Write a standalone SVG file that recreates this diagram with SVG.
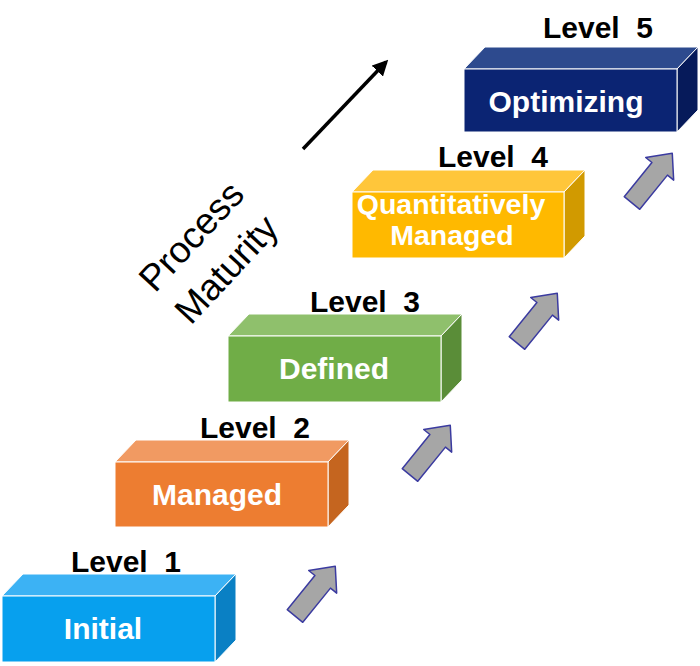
<svg xmlns="http://www.w3.org/2000/svg" width="700" height="666" viewBox="0 0 700 666">
<defs>
<style>
.lvl{font-family:"Liberation Sans",Arial,sans-serif;font-weight:bold;font-size:30px;fill:#000;text-anchor:middle}
.lbl{font-family:"Liberation Sans",Arial,sans-serif;font-weight:bold;font-size:30px;fill:#fff;text-anchor:middle}
.pm{font-family:"Liberation Sans",Arial,sans-serif;font-size:37px;fill:#000;text-anchor:middle}
.face{stroke:#fff;stroke-width:1;stroke-linejoin:round}
.garr{fill:#a6a6a6;stroke:#3b3ba0;stroke-width:1.5;stroke-linejoin:round}
</style>
<polygon id="ga" points="0,-10 44,-10 44,-18 64,0 44,18 44,10 0,10"/>
<marker id="ah" viewBox="0 0 10 10" refX="8" refY="5" markerWidth="4.5" markerHeight="4.5" orient="auto" markerUnits="strokeWidth">
<path d="M0,0 L10,5 L0,10 z" fill="#000"/>
</marker>
</defs>
<rect width="700" height="666" fill="#fff"/>

<g id="connectors">
<use href="#ga" class="garr" transform="translate(295,616) rotate(-51)"/>
<use href="#ga" class="garr" transform="translate(410,475) rotate(-51)"/>
<use href="#ga" class="garr" transform="translate(517,343) rotate(-51)"/>
<use href="#ga" class="garr" transform="translate(632,203) rotate(-51)"/>
<line x1="303" y1="149" x2="386" y2="62" stroke="#000" stroke-width="3.5" marker-end="url(#ah)"/>
</g>

<g id="process-maturity">
<text class="pm" transform="translate(191,236) rotate(-47)" y="13">Process</text>
<text class="pm" transform="translate(226,269) rotate(-47)" y="13">Maturity</text>
</g>

<g id="level1">
<polygon class="face" points="2,596 23,574 236,574 215,596" fill="#3cb2f4"/>
<polygon class="face" points="215,596 236,574 236,640 215,662" fill="#0a80c4"/>
<rect class="face" x="2" y="596" width="213" height="66" fill="#07a0ee"/>
<text class="lbl" x="103" y="639">Initial</text>
<text class="lvl" x="126" y="572" xml:space="preserve">Level  1</text>
</g>

<g id="level2">
<polygon class="face" points="115,462 136,440 349,440 328,462" fill="#f19a62"/>
<polygon class="face" points="328,462 349,440 349,505 328,527" fill="#c5651f"/>
<rect class="face" x="115" y="462" width="213" height="65" fill="#ed7d31"/>
<text class="lbl" x="217" y="505">Managed</text>
<text class="lvl" x="255" y="438" xml:space="preserve">Level  2</text>
</g>

<g id="level3">
<polygon class="face" points="228,336 249,314 462,314 441,336" fill="#8fc06c"/>
<polygon class="face" points="441,336 462,314 462,380 441,402" fill="#5a8d38"/>
<rect class="face" x="228" y="336" width="213" height="66" fill="#70ad47"/>
<text class="lbl" x="334" y="379">Defined</text>
<text class="lvl" x="365" y="312" xml:space="preserve">Level  3</text>
</g>

<g id="level4">
<polygon class="face" points="352,192 373,170 585,170 564,192" fill="#ffc63a"/>
<polygon class="face" points="564,192 585,170 585,236 564,258" fill="#d19a00"/>
<rect class="face" x="352" y="192" width="212" height="66" fill="#ffb900"/>
<text class="lbl" x="451" y="214" style="font-size:28.5px">Quantitatively</text>
<text class="lbl" x="452" y="245" style="font-size:28.5px">Managed</text>
<text class="lvl" x="493" y="167" xml:space="preserve">Level  4</text>
</g>

<g id="level5">
<polygon class="face" points="464,69 485,47 698,47 677,69" fill="#2d4a8e"/>
<polygon class="face" points="677,69 698,47 698,110 677,132" fill="#061a5a"/>
<rect class="face" x="464" y="69" width="213" height="63" fill="#0b2473"/>
<text class="lbl" x="566" y="112">Optimizing</text>
<text class="lvl" x="598" y="38" xml:space="preserve">Level  5</text>
</g>
</svg>
